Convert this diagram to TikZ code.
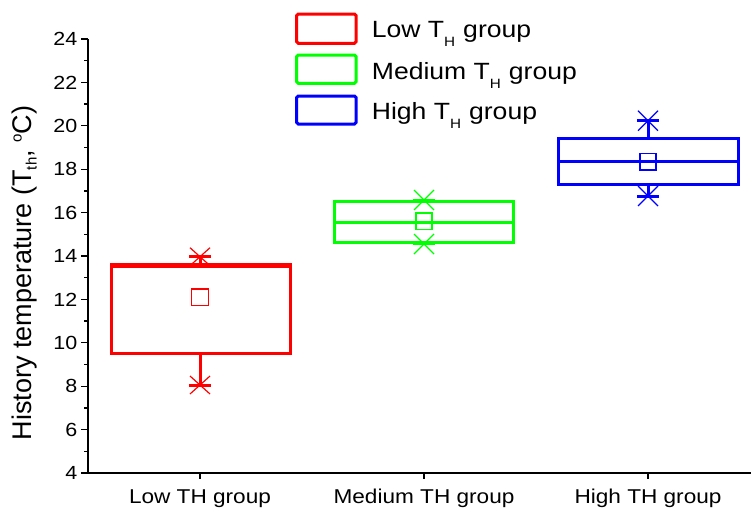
\documentclass[tikz,border=0pt]{standalone}
\usepackage{fontspec}
\setmainfont[FakeStretch=1.13]{Liberation Sans}
\newfontfamily\plainsans{Liberation Sans}
\definecolor{cred}{RGB}{255,0,0}
\definecolor{cgreen}{RGB}{0,255,0}
\definecolor{cblue}{RGB}{0,0,255}
\newcommand{\fs}[1]{\fontsize{#1}{#1}\selectfont}
\newcommand{\subH}{\raisebox{-9pt}{\fs{13.5}H}}
\begin{document}
\begin{tikzpicture}[x=1pt,y=-1pt,
  ax/.style={line width=1.3pt, black},
  boxln/.style={line width=3pt},
  meanln/.style={line width=1.4pt},
  xmk/.style={line width=1.2pt},
  capln/.style={line width=3pt},
  ticklab/.style={anchor=east, inner sep=0pt, font=\fs{19}},
  catlab/.style={anchor=base, inner sep=0pt, font=\fs{20}},
  leglab/.style={anchor=base west, inner sep=0pt, font=\fs{23.5}},
  legbox/.style={line width=3pt, rounded corners=1.5pt}]
\useasboundingbox (0,0) rectangle (751,512);
% axes
\draw[ax] (88,39) -- (88,473) -- (751,473);
\foreach \v in {4,6,...,24} {
  \pgfmathsetmacro\yy{473-(\v-4)*21.7}
  \draw[ax] (81,\yy) -- (88,\yy);
  \node[ticklab] (t\v) at (77.5,\yy) {\v};
}
\foreach \v in {5,7,...,23} {
  \pgfmathsetmacro\yy{473-(\v-4)*21.7}
  \draw[ax] (84,\yy) -- (88,\yy);
}
\foreach \x/\n/\t in {200/lo/Low TH group, 424/me/Medium TH group, 648/hi/High TH group} {
  \draw[ax] (\x,473) -- (\x,479);
  \node[catlab] (c\n) at (\x,503.3) {\t};
}
% y label
\node[rotate=90, anchor=base, inner sep=0pt, font=\plainsans\fs{27}] (ylab) at (31.7,273)
  {History temperature (T\raisebox{-5pt}{\fs{15}th}, \raisebox{10pt}{\fs{15}o}C)};
% red box
\begin{scope}[cred]
  \draw[boxln] (111,264.3) rectangle (290,353.3);
  \draw[boxln] (111,266) -- (290,266);
  \draw[boxln] (200,353.3) -- (200,385);
  \draw[capln] (189,385) -- (211,385);
  \draw[capln] (189,256.7) -- (211,256.7);
  \draw[boxln] (200,264.3) -- (200,256.7);
  \draw[xmk] (190,376) -- (210,394) (190,394) -- (210,376);
  \draw[xmk] (190,247.7) -- (210,265.7) (190,265.7) -- (210,247.7);
  \draw[meanln] (191.7,289) rectangle (208.3,305.6);
\end{scope}
% green box
\begin{scope}[cgreen]
  \draw[boxln] (334.3,201.7) rectangle (513.3,242.7);
  \draw[boxln] (334.3,222.7) -- (513.3,222.7);
  \draw[capln] (413,200.5) -- (435,200.5);
  \draw[capln] (413,243.5) -- (435,243.5);
  \draw[xmk] (414,190) -- (434,210) (414,210) -- (434,190);
  \draw[xmk] (414,234) -- (434,254) (414,254) -- (434,234);
  \draw[meanln] (416,213) rectangle (432,229.5);
\end{scope}
% blue box
\begin{scope}[cblue]
  \draw[boxln] (558.3,138.3) rectangle (738.3,184.3);
  \draw[boxln] (558.3,161.7) -- (738.3,161.7);
  \draw[boxln] (648,138.3) -- (648,120.7);
  \draw[boxln] (648,184.3) -- (648,196);
  \draw[capln] (637,120.7) -- (659,120.7);
  \draw[capln] (637,196) -- (659,196);
  \draw[xmk] (638,110.7) -- (658,130.7) (638,130.7) -- (658,110.7);
  \draw[xmk] (638,186) -- (658,206) (638,206) -- (658,186);
  \draw[meanln] (640,153.5) rectangle (656,170);
\end{scope}
% legend
\draw[legbox, cred] (296.7,14) rectangle (356,43.3);
\draw[legbox, cgreen] (296.7,55) rectangle (356,83.3);
\draw[legbox, cblue] (296.7,96) rectangle (356,124);
\node[leglab] (l1) at (371.7,37.3) {Low T\subH\hspace{8pt}group};
\node[leglab] (l2) at (371.7,79.3) {Medium T\subH\hspace{8pt}group};
\node[leglab] (l3) at (371.7,119) {High T\subH\hspace{8pt}group};
\end{tikzpicture}
\end{document}
